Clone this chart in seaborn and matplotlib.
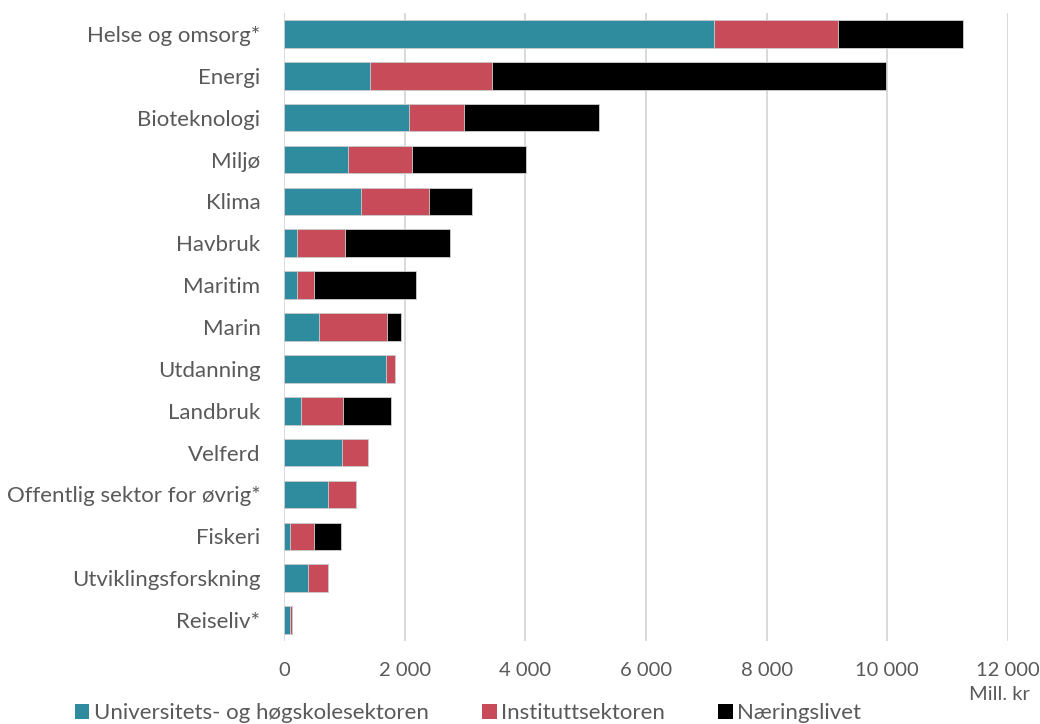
import matplotlib
matplotlib.use("Agg")
import matplotlib.pyplot as plt
import seaborn as sns
import numpy as np
import pandas as pd
from matplotlib.patches import Patch
from matplotlib.ticker import FuncFormatter

categories = ["Helse og omsorg*", "Energi", "Bioteknologi", "Miljø", "Klima", "Havbruk",
              "Maritim", "Marin", "Utdanning", "Landbruk", "Velferd",
              "Offentlig sektor for øvrig*", "Fiskeri", "Utviklingsforskning", "Reiseliv*"]
uh_sektor = [7130, 1420, 2080, 1055, 1275, 215, 210, 580, 1690, 280, 960, 730, 100, 395, 95]
institutt = [2050, 2030, 905, 1060, 1125, 795, 280, 1130, 145, 695, 435, 460, 405, 340, 45]
naering = [2080, 6520, 2230, 1890, 710, 1740, 1690, 225, 0, 795, 0, 0, 445, 0, 0]
series_names = ["Universitets- og høgskolesektoren", "Instituttsektoren", "Næringslivet"]
x_ticks = [0, 2000, 4000, 6000, 8000, 10000, 12000]

colors = ["#2E8C9E", "#C84B5A", "#000000"]
text_color = "#595959"

sns.set_theme(style="white")
plt.rcParams['font.family'] = ['Lato', 'DejaVu Sans']

df = pd.DataFrame({"cat": categories, "uh": uh_sektor, "inst": institutt, "naer": naering})
df["c1"] = df["uh"]
df["c2"] = df["uh"] + df["inst"]
df["c3"] = df["uh"] + df["inst"] + df["naer"]

fig = plt.figure(figsize=(10.4, 7.24), dpi=100)
ax = fig.add_axes([284/1040, 1 - 641/724, (1008-284)/1040, (641-13)/724])

for col, c in zip(["c3", "c2", "c1"], colors[::-1]):
    sns.barplot(data=df, x=col, y="cat", orient="h", color=c, width=0.66,
                edgecolor="#d0d0d0", linewidth=0.6, saturation=1, ax=ax, order=categories)

ax.set_xlim(0, 12000)
ax.set_ylim(14.5, -0.5)
ax.set_xticks(x_ticks)
ax.xaxis.set_major_formatter(FuncFormatter(lambda v, p: f"{int(v):,}".replace(",", " ")))
ax.grid(axis="x", color="#d9d9d9", linewidth=1.4)
ax.set_axisbelow(True)
for s in ax.spines.values():
    s.set_visible(False)
ax.set_xlabel("")
ax.set_ylabel("")
ax.tick_params(axis="both", length=0, colors=text_color)
ax.tick_params(axis="x", pad=15, labelsize=14.5)
ax.tick_params(axis="y", pad=17, labelsize=16)

fig.text(1030/1040, 1 - 695/724, "Mill. kr", ha="right", va="center", fontsize=14.5, color=text_color)

handles = [Patch(facecolor=c, edgecolor="none") for c in colors]
leg = fig.legend(handles, series_names, loc="center", bbox_to_anchor=(468/1040, 1 - 713/724),
                 ncol=3, frameon=False, fontsize=16, handlelength=0.65, handleheight=0.65,
                 handletextpad=0.2, columnspacing=2.4)
for t in leg.get_texts():
    t.set_color(text_color)

fig.savefig("out.png", dpi=100)
